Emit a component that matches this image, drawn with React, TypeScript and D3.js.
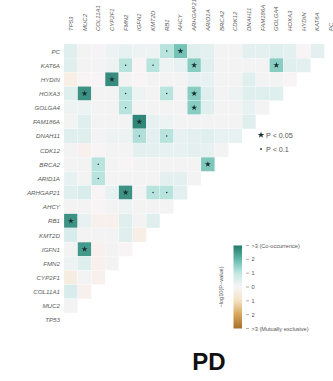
import React from "react";
import * as d3 from "d3";

// genes, top row to bottom row; columns run in the opposite order
const rowGenes = [
  "PC", "KAT6A", "HYDIN", "HOXA3", "GOLGA4", "FAM186A", "DNAH11", "CDK12", "BRCA2", "ARID1A",
  "ARHGAP21", "AHCY", "RB1", "KMT2D", "IGFN1", "FMN2", "CYP2F1", "COL11A1", "MUC2", "TP53",
];
const colGenes = [...rowGenes].reverse();

// signed -log10(P): > 0 co-occurrence, < 0 mutual exclusivity
// row i holds the values for columns 0 .. 18 - i
const pc = [0.5, 0.1, 0.05, 0.2, 0.3, 0.2, 0.2, 1.1, 1.8, 0.5, 0.4, 0.1, 0.1, 0.4, 0.4, 0.5, 0.4, 0.0, 0.4];
const kat6a = [0.5, 0.1, 0.1, 0.2, 1.1, 0.0, 1.1, 0.2, 0.3, 1.6, 0.5, 0.1, 0.1, 0.1, 0.1, 1.6, 0.5, 0.4];
const hydin = [-0.3, 0.0, 0.0, 2.7, 0.1, 0.0, 0.1, 0.1, 0.1, 0.3, 0.3, 0.1, 0.1, 0.5, 0.1, 0.1, 0.0];
const hoxa3 = [0.5, 2.6, 0.1, 0.1, 1.1, 0.2, 0.1, 1.1, 0.1, 1.6, 0.5, 0.1, 0.2, 0.5, 0.5, 0.5];
const golga4 = [0.2, 0.2, 0.1, 0.1, 1.1, 0.1, 0.1, 0.1, 0.1, 1.6, 0.5, 0.1, 0.1, 0.3, 0.1];
const fam186a = [0.1, 0.5, 0.1, 0.1, 0.1, 2.8, 0.3, 0.2, 0.1, 0.1, 0.1, 0.1, 0.1, 0.5];
const dnah11 = [0.5, 0.5, 0.1, 0.2, 0.2, 1.2, 0.4, 1.1, 0.3, 0.4, 0.5, 0.3, 0.3];
const cdk12 = [0.1, -0.2, 0.0, 0.1, 0.1, 0.4, 0.4, 0.3, 0.3, 0.4, 0.3, 0.1];
const brca2 = [0.1, 0.1, 1.1, 0.1, 0.0, 0.1, 0.1, 0.1, 0.1, 0.1, 1.7];
const arid1a = [0.3, 0.1, 1.1, 0.1, 0.1, 0.1, 0.1, 0.4, 0.4, 0.1];
const arhgap21 = [0.5, 0.6, 0.0, 0.3, 2.6, 0.1, 1.1, 1.1, 0.4];
const ahcy = [0.1, 0.1, 0.0, 0.1, 0.2, 0.1, 0.1, 0.1];
const rb1 = [2.6, 0.3, -0.2, -0.2, 0.5, 0.1, 0.5];
const kmt2d = [0.6, 0.1, 0.1, 0.1, 0.5, -0.3];
const igfn1 = [0.1, 2.5, -0.2, 0.1, 0.0];
const fmn2 = [0.2, 0.5, -0.2, 0.1];
const cyp2f1 = [-0.4, 0.1, -0.2];
const col11a1 = [0.6, -0.2];
const muc2 = [0.1];
const tp53: number[] = [];

const matrix = [pc, kat6a, hydin, hoxa3, golga4, fam186a, dnah11, cdk12, brca2, arid1a,
  arhgap21, ahcy, rb1, kmt2d, igfn1, fmn2, cyp2f1, col11a1, muc2, tp53];

const colorStops = [-3, -2, -1, 0, 1, 2, 3];
const colorRange = ["#a5702b", "#d6a55a", "#f3e2c2", "#f8f4f6", "#c3e9e4", "#62b8ab", "#24796c"];
const barTicks = [3, 2, 1, 0, -1, -2, -3];
const barLabels = [">3 (Co-occurrence)", "2", "1", "0", "1", "2", ">3 (Mutually exclusive)"];

const W = 333;
const H = 381;

export default function App() {
  const x = d3.scaleBand<string>().domain(colGenes).range([64, 64 + 20 * 13.7]);
  const y = d3.scaleBand<string>().domain(rowGenes).range([44, 44 + 20 * 14.15]);
  const color = d3.scaleLinear<string>().domain(colorStops).range(colorRange).clamp(true);

  const cells = matrix.flatMap((vals, i) =>
    vals.map((v, j) => ({ row: rowGenes[i], col: colGenes[j], v }))
  );

  const barY = d3.scaleLinear().domain([3, -3]).range([245.5, 328.5]);
  const star = d3.symbol(d3.symbolStar, 11)();
  const starLegend = d3.symbol(d3.symbolStar, 14)();
  const gradStops = d3.range(0, 1.0001, 0.05);

  const labelFont = "Liberation Sans, Arial, sans-serif";

  return (
    <svg width={W} height={H} style={{ position: "absolute", left: 0, top: 0 }} fontFamily={labelFont}>
      <defs>
        <linearGradient id="cbar" x1="0" y1="0" x2="0" y2="1">
          {gradStops.map((t) => (
            <stop key={t} offset={t} stopColor={color(3 - 6 * t)} />
          ))}
        </linearGradient>
      </defs>

      {cells.map((c) => (
        <rect
          key={c.row + c.col}
          x={x(c.col)}
          y={y(c.row)}
          width={x.bandwidth()}
          height={y.bandwidth()}
          fill={color(c.v)}
          stroke="#ffffff"
          strokeWidth={0.2}
        />
      ))}

      {cells.filter((c) => Math.abs(c.v) > 1).map((c) => {
        const cx = (x(c.col) ?? 0) + x.bandwidth() / 2;
        const cy = (y(c.row) ?? 0) + y.bandwidth() / 2;
        return Math.abs(c.v) > -Math.log10(0.05) ? (
          <path key={"m" + c.row + c.col} d={star ?? ""} transform={`translate(${cx},${cy})`} fill="#17302c" />
        ) : (
          <circle key={"m" + c.row + c.col} cx={cx} cy={cy} r={0.75} fill="#17302c" />
        );
      })}

      {rowGenes.map((g) => (
        <text
          key={"r" + g}
          x={60}
          y={(y(g) ?? 0) + y.bandwidth() / 2}
          textAnchor="end"
          dominantBaseline="central"
          fontSize={6.2}
          fontStyle="italic"
          fill="#5a5a5a"
        >
          {g}
        </text>
      ))}

      {colGenes.map((g) => (
        <text
          key={"c" + g}
          transform={`translate(${(x(g) ?? 0) + x.bandwidth() / 2},31) rotate(-90)`}
          textAnchor="start"
          dominantBaseline="central"
          fontSize={6}
          fontStyle="italic"
          fill="#5a5a5a"
        >
          {g}
        </text>
      ))}

      {/* significance legend */}
      <path d={starLegend ?? ""} transform="translate(261,135)" fill="#17302c" />
      <text x={266} y={135} dominantBaseline="central" fontSize={7.2} fill="#555">P &lt; 0.05</text>
      <circle cx={261} cy={149} r={0.9} fill="#17302c" />
      <text x={266} y={149} dominantBaseline="central" fontSize={7.2} fill="#555">P &lt; 0.1</text>

      {/* colour bar */}
      <rect x={233.5} y={barY(3)} width={8.5} height={barY(-3) - barY(3)} fill="url(#cbar)" />
      {barTicks.map((t, i) => (
        <g key={"t" + i}>
          <line x1={246} x2={249} y1={barY(t)} y2={barY(t)} stroke="#777" strokeWidth={0.6} />
          <text x={251.5} y={barY(t)} dominantBaseline="central" fontSize={5.6} fill="#555">
            {barLabels[i]}
          </text>
        </g>
      ))}
      <text
        transform={`translate(221,${barY(0)}) rotate(-90)`}
        textAnchor="middle"
        dominantBaseline="central"
        fontSize={5.6}
        fill="#555"
      >
        −log10(P−value)
      </text>

      <text x={209} y={370} textAnchor="middle" fontSize={24} fontWeight="bold" fill="#111">PD</text>
    </svg>
  );
}
